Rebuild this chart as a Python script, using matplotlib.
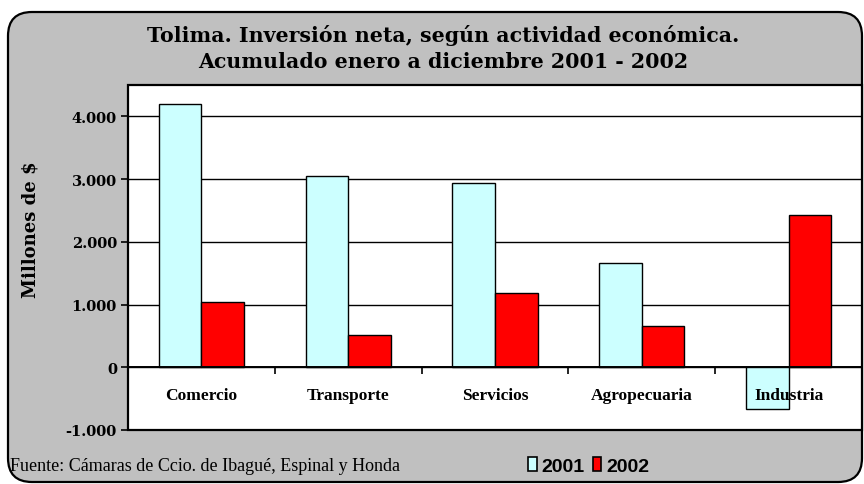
import matplotlib
matplotlib.use("Agg")
import matplotlib.pyplot as plt
from matplotlib.patches import FancyBboxPatch, Rectangle, Patch
from matplotlib.transforms import IdentityTransform
import numpy as np

categories = ["Comercio", "Transporte", "Servicios", "Agropecuaria", "Industria"]
values_2001 = [4200, 3050, 2930, 1660, -670]
values_2002 = [1035, 510, 1190, 665, 2430]
series_labels = ["2001", "2002"]
ytick_values = [-1000, 0, 1000, 2000, 3000, 4000]
ytick_labels = ["-1.000", "0", "1.000", "2.000", "3.000", "4.000"]

W, H = 864, 485
fig = plt.figure(figsize=(W / 100, H / 100), dpi=100, facecolor="white")

# rounded gray background
bg = FancyBboxPatch((8, 2), 854, H - 13 - 2,
                    boxstyle="round,pad=0,rounding_size=24",
                    transform=IdentityTransform(), facecolor="#c0c0c0",
                    edgecolor="black", linewidth=1.6, zorder=-10)
fig.patches.append(bg)

ax = fig.add_axes([128 / W, 1 - 431 / H, (862 - 128) / W, (431 - 86) / H])
ax.set_zorder(2)
ax.set_facecolor("white")

x = np.arange(len(categories))
bw = 0.29
ax.bar(x - bw / 2, values_2001, bw, color="#ccffff", edgecolor="black", linewidth=1.0, zorder=3)
ax.bar(x + bw / 2, values_2002, bw, color="#ff0000", edgecolor="black", linewidth=1.0, zorder=3)

ax.set_xlim(-0.5, len(categories) - 0.5)
ax.set_ylim(-1000, 4500)

serif = "DejaVu Serif"
ax.set_yticks(ytick_values)
ax.set_yticklabels(ytick_labels, fontfamily=serif, fontweight="bold", fontsize=10.5)
ax.tick_params(axis="y", direction="out", length=5, width=1.2, pad=3)
ax.yaxis.grid(True, color="black", linewidth=1.0, zorder=1)
ax.set_axisbelow(True)

ax.spines["bottom"].set_position(("data", 0))
ax.spines["bottom"].set_linewidth(1.4)
ax.spines["bottom"].set_zorder(4)
for s in ["top", "right", "left"]:
    ax.spines[s].set_visible(False)
ax.add_patch(Rectangle((0, 0), 1, 1, transform=ax.transAxes, fill=False,
                       edgecolor="black", linewidth=1.6, zorder=5, clip_on=False))

ax.set_xticks(np.arange(len(categories) - 1) + 0.5)
ax.set_xticklabels([])
ax.tick_params(axis="x", which="major", direction="out", length=5, width=1.2)

# category labels drawn on top of bars
for xi, cat in zip(x, categories):
    ax.annotate(cat, xy=(xi, 0), xytext=(0, -28), textcoords="offset pixels",
                ha="center", va="center", fontfamily="Liberation Serif",
                fontweight="bold", fontsize=12.5, zorder=10)

ax.set_ylabel("Millones de $", fontfamily=serif, fontweight="bold", fontsize=13)
ax.yaxis.set_label_coords((40 - 128) / (862 - 128), (431 - 230) / (431 - 86))

fig.text(443 / W, 1 - 35 / H, "Tolima. Inversión neta, según actividad económica.",
         ha="center", va="center", fontfamily=serif, fontweight="bold", fontsize=14.8)
fig.text(443 / W, 1 - 62 / H, "Acumulado enero a diciembre 2001 - 2002",
         ha="center", va="center", fontfamily=serif, fontweight="bold", fontsize=14.8)

fig.text(10 / W, 1 - 467 / H, "Fuente: Cámaras de Ccio. de Ibagué, Espinal y Honda",
         ha="left", va="center", fontfamily="Liberation Serif", fontsize=13)

# legend
handles = [Patch(facecolor="#ccffff", edgecolor="black", linewidth=1.2),
           Patch(facecolor="#ff0000", edgecolor="black", linewidth=1.2)]
fig.legend(handles, series_labels, loc="center left", bbox_to_anchor=(528 / W, 1 - 467 / H),
           ncol=2, frameon=False, handlelength=0.45, handleheight=0.7, handletextpad=0.25,
           columnspacing=0.4, borderpad=0, borderaxespad=0,
           prop={"family": "Liberation Sans", "weight": "bold", "size": 14})

fig.savefig("out.png", dpi=100, facecolor="white")
